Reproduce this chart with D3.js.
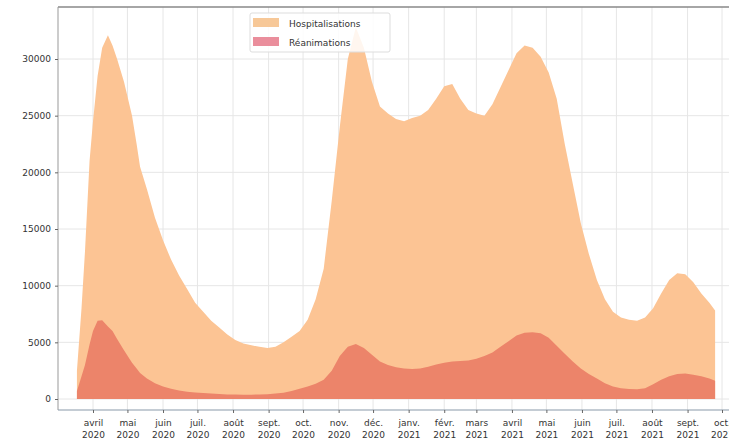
<!DOCTYPE html>
<html><head><meta charset="utf-8">
<script src="https://cdn.jsdelivr.net/npm/d3@7"></script>
<style>body{margin:0;background:#fff}svg{display:block}text{font-family:"DejaVu Sans",sans-serif}</style>
</head><body><svg id="c" width="729" height="446"></svg>
<script>
const dates = ["2020-03-18","2020-03-22","2020-03-25","2020-03-29","2020-04-01","2020-04-05","2020-04-09","2020-04-14","2020-04-18","2020-04-22","2020-04-28","2020-05-05","2020-05-09","2020-05-12","2020-05-18","2020-05-25","2020-06-01","2020-06-08","2020-06-15","2020-06-22","2020-06-29","2020-07-06","2020-07-13","2020-07-20","2020-07-27","2020-08-03","2020-08-10","2020-08-17","2020-08-24","2020-08-31","2020-09-07","2020-09-14","2020-09-21","2020-09-28","2020-10-05","2020-10-12","2020-10-19","2020-10-26","2020-11-02","2020-11-09","2020-11-16","2020-11-23","2020-11-30","2020-12-07","2020-12-14","2020-12-21","2020-12-28","2021-01-04","2021-01-11","2021-01-18","2021-01-25","2021-02-01","2021-02-08","2021-02-15","2021-02-22","2021-03-01","2021-03-08","2021-03-15","2021-03-22","2021-03-29","2021-04-05","2021-04-12","2021-04-19","2021-04-26","2021-05-03","2021-05-10","2021-05-17","2021-05-24","2021-05-31","2021-06-07","2021-06-14","2021-06-21","2021-06-28","2021-07-05","2021-07-12","2021-07-19","2021-07-26","2021-08-02","2021-08-09","2021-08-16","2021-08-23","2021-08-30","2021-09-06","2021-09-13","2021-09-20","2021-09-25"];
const hospitalisations = [2500,8000,13000,21000,24500,28500,31000,32100,31200,30000,28000,25000,22500,20500,18500,16000,14000,12300,10900,9700,8500,7700,6900,6300,5700,5200,4900,4750,4600,4500,4600,5000,5500,6000,7000,8800,11500,17500,24000,30000,32800,31000,28000,25800,25200,24700,24500,24800,25000,25500,26500,27600,27800,26500,25500,25200,25000,26000,27500,29000,30500,31200,31000,30200,28800,26500,22500,19000,15500,12800,10500,8800,7700,7200,7000,6900,7200,8000,9300,10500,11100,11000,10300,9300,8500,7800];
const reanimations = [700,2000,3000,4800,6000,6900,6950,6400,6000,5300,4300,3200,2700,2300,1800,1400,1100,900,750,650,580,520,480,440,400,390,380,380,400,420,480,550,700,900,1100,1350,1700,2500,3800,4600,4850,4500,3900,3300,3000,2800,2700,2650,2700,2850,3050,3200,3300,3350,3400,3550,3800,4100,4600,5100,5600,5850,5900,5800,5400,4700,4000,3300,2700,2200,1800,1400,1100,950,880,870,950,1300,1700,2000,2200,2250,2150,2000,1800,1600];
const yTicks = [0,5000,10000,15000,20000,25000,30000];
const monthTicks = ["2020-04-01","2020-05-01","2020-06-01","2020-07-01","2020-08-01","2020-09-01","2020-10-01","2020-11-01","2020-12-01","2021-01-01","2021-02-01","2021-03-01","2021-04-01","2021-05-01","2021-06-01","2021-07-01","2021-08-01","2021-09-01","2021-10-01"];
const monthNames = ["janv.","févr.","mars","avril","mai","juin","juil.","août","sept.","oct.","nov.","déc."];
const seriesNames = ["Hospitalisations","Réanimations"];

const parse = d3.utcParse("%Y-%m-%d");
const svg = d3.select("#c");
const L = 58, T = 7, B = 410;
const dayPx = 629/548;
const d0 = parse("2020-04-01"), d1 = parse("2021-10-01");
const x = d3.scaleUtc().domain([d0, d1]).range([93, 722]);
const xLeft = x.invert(L), xRight = x.invert(745);
x.domain([xLeft, xRight]).range([L, 745]);
const y = d3.scaleLinear().domain([0, 30000]).range([399, 59]);
y.domain([y.invert(B), y.invert(T)]).range([B, T]);

const data = dates.map((d,i)=>({d:parse(d), h:hospitalisations[i], r:reanimations[i]}));

// grid
const g = svg.append("g");
g.selectAll(".gx").data(monthTicks).join("line")
  .attr("x1", d=>x(parse(d))).attr("x2", d=>x(parse(d)))
  .attr("y1", T).attr("y2", B).attr("stroke","#e6e6e6").attr("stroke-width",1);
g.selectAll(".gy").data(yTicks).join("line")
  .attr("x1", L).attr("x2", 745).attr("y1", d=>y(d)).attr("y2", d=>y(d))
  .attr("stroke","#e6e6e6").attr("stroke-width",1);

const area = key => d3.area().x(d=>x(d.d)).y0(y(0)).y1(d=>y(d[key]));
svg.append("path").datum(data).attr("d", area("h")).attr("fill","#fcc494");
svg.append("path").datum(data).attr("d", area("r")).attr("fill","#ec846a");

// spines
svg.append("line").attr("x1",L).attr("x2",745).attr("y1",T).attr("y2",T).attr("stroke","#888").attr("stroke-width",1.5);
svg.append("line").attr("x1",L).attr("x2",L).attr("y1",T).attr("y2",B).attr("stroke","#999");
svg.append("line").attr("x1",L).attr("x2",745).attr("y1",B).attr("y2",B).attr("stroke","#8a9aaa").attr("stroke-width",1.2);

// y axis
const ya = svg.append("g").attr("transform",`translate(${L},0)`)
  .call(d3.axisLeft(y).tickValues(yTicks).tickFormat(d3.format("d")).tickSize(3).tickPadding(4));
ya.select(".domain").remove();
ya.selectAll("line").attr("stroke","#666");
ya.selectAll("text").attr("font-size",9).attr("fill","#333").attr("font-family","DejaVu Sans");

// x axis
const xa = svg.append("g").attr("transform",`translate(0,${B})`)
  .call(d3.axisBottom(x).tickValues(monthTicks.map(parse)).tickSize(3).tickFormat(""));
xa.select(".domain").remove();
xa.selectAll("line").attr("stroke","#666");
xa.selectAll(".tick").each(function(d){
  const t = d3.select(this).append("text").attr("fill","#333").attr("font-size",9).attr("text-anchor","middle").attr("font-family","DejaVu Sans");
  t.append("tspan").attr("x",0).attr("y",16).text(monthNames[d.getUTCMonth()]);
  t.append("tspan").attr("x",0).attr("y",28).text(d.getUTCFullYear());
});

// legend
const lg = svg.append("g");
lg.append("rect").attr("x",250).attr("y",13).attr("width",140).attr("height",39).attr("fill","#fff").attr("fill-opacity",0.85).attr("stroke","#ddd").attr("rx",2);
const legCol = ["#f7c898","#ea8e9c"];
seriesNames.forEach((n,i)=>{
  lg.append("rect").attr("x",253).attr("y",18+i*19).attr("width",26).attr("height",9).attr("fill",legCol[i]);
  lg.append("text").attr("x",289).attr("y",27+i*19).attr("font-size",9).attr("fill","#333").text(n);
});
</script></body></html>
